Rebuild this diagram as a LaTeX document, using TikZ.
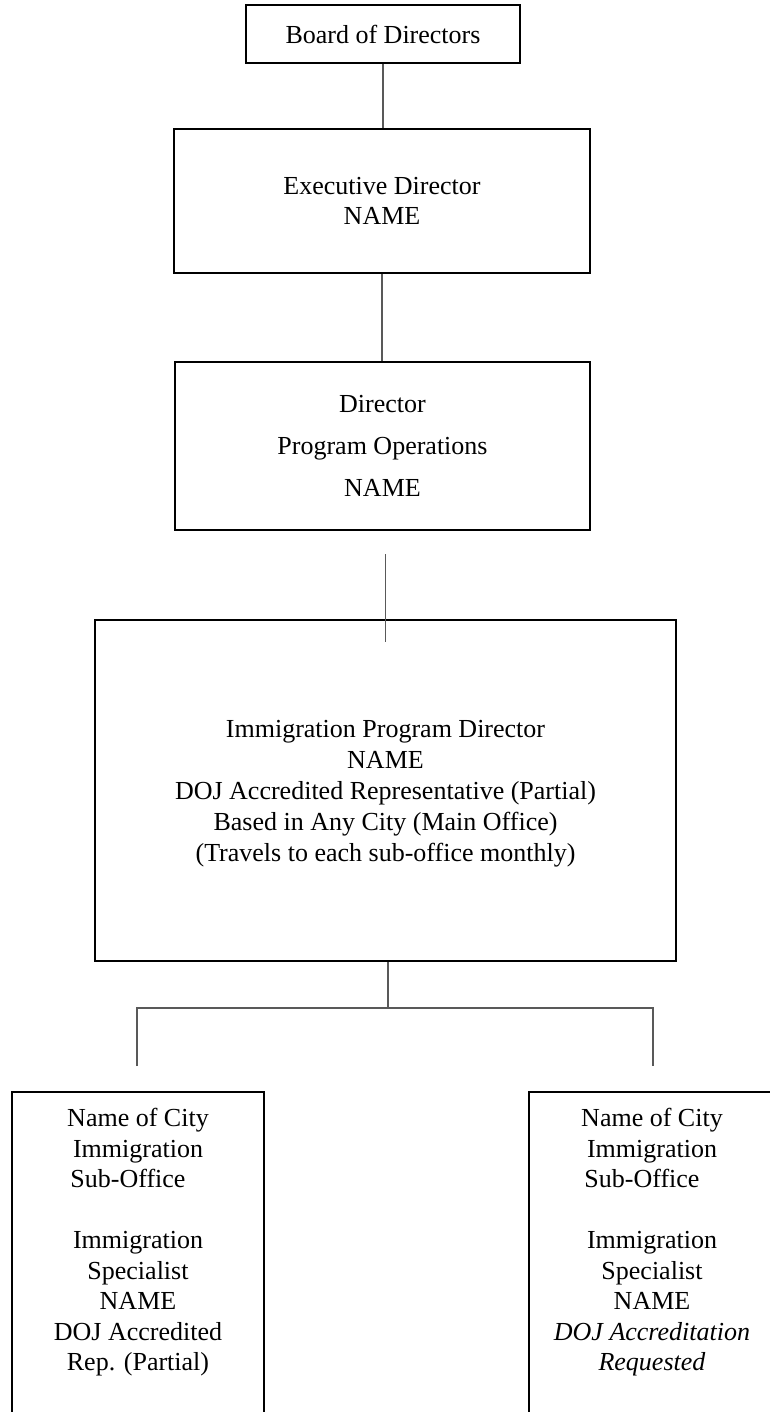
\documentclass[tikz,border=0pt]{standalone}
\usepackage{fontspec}
\setmainfont{Liberation Serif}
\usetikzlibrary{positioning}

\begin{document}
\begin{tikzpicture}[x=0.5pt,y=-0.5pt,
		box/.style={draw,rectangle,line width=1pt,inner sep=0pt,align=center,font=\fontsize{13}{15}\selectfont},
		txt/.style={inner sep=0pt,align=center,font=\fontsize{13}{15.25}\selectfont},
		conn/.style={draw=black!65,line width=0.55pt}]
			\useasboundingbox (0,0) rectangle (770,1412);
			% top of the chart
			\node[box,minimum width=137pt,minimum height=29pt] (board) at (383,34){Board of Directors};
			\node[box,minimum width=208pt,minimum height=72pt] (exec) at (382,201){Executive Director\\NAME};
			\node[box,minimum width=207.5pt,minimum height=84pt,font=\fontsize{13}{21}\selectfont] (dir) at (382.5,446){Director\\Program Operations\\NAME};
			\node[box,minimum width=290.5pt,minimum height=170.5pt] (immig) at (385.5,790.5){};
			\node[txt,font=\fontsize{13}{15.5}\selectfont] (immigtxt) at ([yshift=-1.75pt]immig.center){Immigration Program Director\\NAME\\DOJ Accredited Representative (Partial)\\Based in Any City (Main Office)\\(Travels to each sub-office monthly)};
			% sub-offices, cut off at the bottom of the page
			\node[box,minimum width=126pt,minimum height=174pt] (subL) at (138,1266){};
			\node[box,minimum width=123pt,minimum height=174pt] (subR) at (652,1266){};
			\node[txt,below=8.5pt of subL.north] (subLtxt){Name of City\\Immigration\\Sub-Office\rule{10pt}{0pt}\\[15.25pt]Immigration\\Specialist\\NAME\\DOJ Accredited\\Rep. (Partial)};
			\node[txt,below=8.5pt of subR.north] (subRtxt){Name of City\\Immigration\\Sub-Office\rule{10pt}{0pt}\\[15.25pt]Immigration\\Specialist\\NAME\\\textit{DOJ Accreditation}\\\textit{Requested}};
			% lines
			\coordinate (dirgap) at ([yshift=-11.5pt]dir.south);
			\coordinate (immiggap) at ([yshift=-11.5pt]immig.north);
			\coordinate (fork) at (388,1008);
			\coordinate (forkL) at (137,1008);
			\coordinate (forkR) at (653,1008);
			\coordinate (dropL) at (137,1066);
			\coordinate (dropR) at (653,1066);
			\draw[conn] (board.south) -- (board.south |- exec.north);
			\draw[conn] (exec.south) -- (exec.south |- dir.north);
			\draw[conn] (dirgap -| immiggap) -- (immiggap);
			\draw[conn] (fork |- immig.south) -- (fork);
			\draw[conn] (dropL) -- (forkL) -- (forkR) -- (dropR);
		\end{tikzpicture}
\end{document}
